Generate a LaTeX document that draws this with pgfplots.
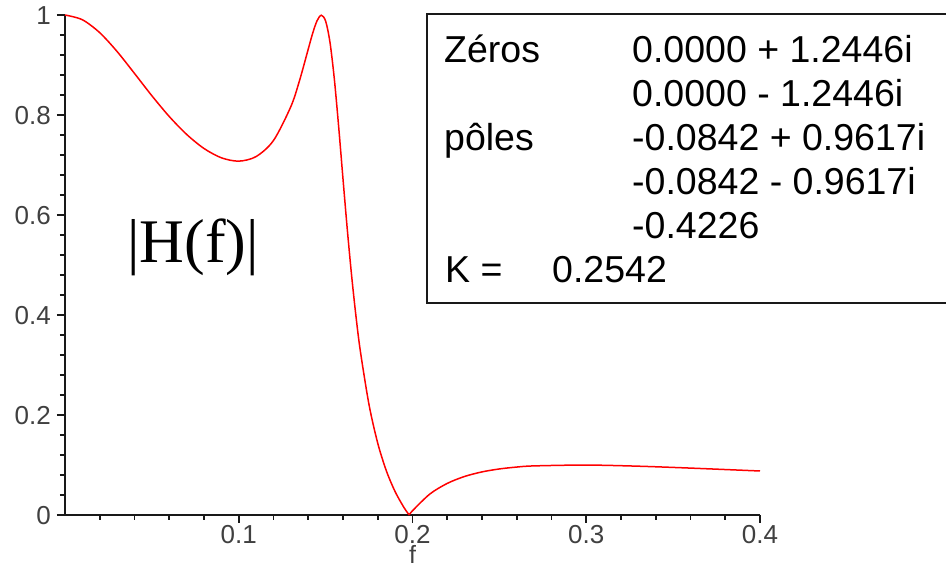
\documentclass[border=0pt]{standalone}
\usepackage{fontspec}
\setmainfont{Liberation Sans}
\newfontfamily\seriffont{Liberation Serif}
\usepackage{pgfplots}
\pgfplotsset{compat=1.18}

\begin{document}
\begin{tikzpicture}
\begin{axis}[
  at={(0,0)}, anchor=south west,
  scale only axis,
  width=695pt, height=500pt,
  xmin=0, xmax=0.4, ymin=0, ymax=1,
  axis lines=left,
  axis line style={-, line width=1.6pt, black!90},
  clip=false,
  xtick={0.1,0.2,0.3,0.4},
  xticklabels={0.1,0.2,0.3,0.4},
  ytick={0,0.2,0.4,0.6,0.8,1},
  yticklabels={0,0.2,0.4,0.6,0.8,1},
  minor xtick={0.02,0.04,0.06,0.08,0.12,0.14,0.16,0.18,0.22,0.24,0.26,0.28,0.32,0.34,0.36,0.38},
  minor ytick={0.04,0.08,0.12,0.16,0.24,0.28,0.32,0.36,0.44,0.48,0.52,0.56,0.64,0.68,0.72,0.76,0.84,0.88,0.92,0.96},
  tick align=outside,
  major tick length=8pt,
  minor tick length=5pt,
  major tick style={line width=1.6pt, black!90},
  minor tick style={line width=1.6pt, black!90},
  tick label style={font=\fontsize{26}{30}\selectfont, text=black!75},
  xticklabel style={anchor=base, inner sep=0pt, yshift=-21pt},
  yticklabel style={anchor=base east, inner sep=0pt, xshift=-6pt, yshift=-10pt},
  xlabel={f},
  xlabel style={at={(rel axis cs:0.5,0)}, anchor=base, inner sep=0pt, yshift=-49pt, font=\fontsize{25}{28}\selectfont, text=black!75},
]
\addplot[red, line width=1.5pt, smooth, tension=0.5] coordinates {
  (0,1.0000) (0.01,0.9905) (0.02,0.9646) (0.03,0.9269) (0.04,0.8831)
  (0.05,0.8385) (0.06,0.7970) (0.07,0.7612) (0.08,0.7330) (0.09,0.7144)
  (0.10,0.7077) (0.11,0.7169) (0.12,0.7490) (0.13,0.8169) (0.135,0.8691)
  (0.14,0.9318) (0.1425,0.9629) (0.145,0.9880) (0.1475,0.9995) (0.15,0.9878)
  (0.1525,0.9456) (0.155,0.8724) (0.1575,0.7768) (0.16,0.6722) (0.1625,0.5701)
  (0.165,0.4774) (0.1675,0.3965) (0.17,0.3275) (0.175,0.2202) (0.18,0.1435)
  (0.185,0.0879) (0.19,0.0467) (0.195,0.0155) (0.1981,0)
};
\addplot[red, line width=1.5pt, smooth, tension=0.5] coordinates {
  (0.1981,0) (0.20,0.0085) (0.21,0.0420) (0.22,0.0632) (0.23,0.0771)
  (0.24,0.0862) (0.25,0.0921) (0.26,0.0959) (0.27,0.0982) (0.30,0.0999)
  (0.33,0.0976) (0.36,0.0938) (0.40,0.0880)
};
\end{axis}
% |H(f)| label
\node[anchor=base, inner sep=0pt, font=\seriffont\fontsize{62}{70}\selectfont] at (128pt,252pt) {|H(f)|};
% pole/zero box
\draw[line width=1.8pt, black!90] (362pt,212pt) rectangle (890pt,501pt);
\begin{scope}[every node/.style={anchor=base west, inner sep=0pt, font=\fontsize{37.5}{40}\selectfont}]
\node at (379pt,452pt) {Zéros};
\node at (567pt,452pt) {0.0000 + 1.2446i};
\node at (567pt,408pt) {0.0000 - 1.2446i};
\node at (379pt,364pt) {pôles};
\node at (567pt,364pt) {-0.0842 + 0.9617i};
\node at (567pt,320pt) {-0.0842 - 0.9617i};
\node at (567pt,276pt) {-0.4226};
\node at (380pt,232pt) {K =};
\node at (487pt,232pt) {0.2542};
\end{scope}
\pgfresetboundingbox
\path (-65pt,-55pt) rectangle (881pt,515pt);
\end{tikzpicture}
\end{document}
